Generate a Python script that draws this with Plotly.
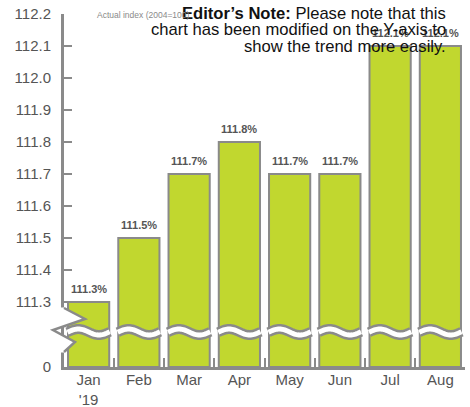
import numpy as np
import plotly.graph_objects as go

# ---- data ----
months = ["Jan<br>'19", "Feb", "Mar", "Apr", "May", "Jun", "Jul", "Aug"]
values = [111.3, 111.5, 111.7, 111.8, 111.7, 111.7, 112.1, 112.1]
ytick_vals = [111.3, 111.4, 111.5, 111.6, 111.7, 111.8, 111.9, 112.0, 112.1, 112.2]

# ---- layout geometry ----
W, H = 470, 407
L, R, T, B = 64, 5, 14, 40
PW, PH = W - R - L, H - B - T
XR = [-0.49, 7.49]
Y_TOP = 112.2
Y_BOT = Y_TOP - PH / 320.0   # 0.1 per 32 px
YR = [Y_BOT, Y_TOP]

def px_x(p):
    return XR[0] + (p - L) / PW * (XR[1] - XR[0])

def px_y(p):
    return YR[1] - (p - T) / PH * (YR[1] - YR[0])

def paper_x(p):
    return (p - L) / PW

def paper_y(p):
    return 1 - (p - T) / PH

GRAY = "#8a8a8a"
TXT = "#555555"
GREEN = "#c1d72f"
BAR_W = 0.82

x = list(range(len(months)))

fig = go.Figure()
fig.add_trace(go.Bar(
    x=x, y=[v - Y_BOT for v in values], base=Y_BOT, width=BAR_W,
    marker=dict(color=GREEN, line=dict(color=GRAY, width=2)),
    hoverinfo="skip",
))

shapes = []
# wave bands across bars
yc = px_y(332)
amp = 3.0 / 320.0
for i in x:
    xs = np.linspace(i - BAR_W / 2 - 0.01, i + BAR_W / 2 + 0.01, 40)
    ys = yc + amp * np.sin(2 * np.pi * (xs - (i - BAR_W / 2)) / BAR_W)
    path = "M " + " L ".join(f"{a:.4f},{b:.5f}" for a, b in zip(xs, ys))
    shapes.append(dict(type="path", path=path, xref="x", yref="y",
                       line=dict(color=GRAY, width=10), layer="above"))
    shapes.append(dict(type="path", path=path, xref="x", yref="y",
                       line=dict(color="white", width=5), layer="above"))

# zigzag break on the y axis (paper coordinates)
zz = [(64, 308), (85, 319), (53, 330), (75, 342), (64, 352)]
cover = [(58, 308)] + zz + [(58, 352)]
cpath = "M " + " L ".join(f"{paper_x(a):.5f},{paper_y(b):.5f}" for a, b in cover) + " Z"
shapes.append(dict(type="path", path=cpath, xref="paper", yref="paper",
                   fillcolor="white", line=dict(color="white", width=1), layer="above"))
zline = "M " + " L ".join(f"{paper_x(a):.5f},{paper_y(b):.5f}" for a, b in zz)
shapes.append(dict(type="path", path=zline, xref="paper", yref="paper",
                   line=dict(color=GRAY, width=2.5), layer="above"))

annotations = []
for xi, v in zip(x, values):
    annotations.append(dict(x=xi, y=v, text=f"<b>{v:.1f}%</b>", showarrow=False,
                            yanchor="bottom", yshift=5,
                            font=dict(family="Liberation Sans, Arial", size=11, color=TXT)))

note_lines = ["<b>Editor’s Note:</b> Please note that this",
              "chart has been modified on the Y-axis to",
              "show the trend more easily."]
for k, line in enumerate(note_lines):
    annotations.append(dict(xref="paper", yref="paper", x=paper_x(448),
                            y=paper_y(13 + 16.5 * k),
                            xanchor="right", yanchor="middle", align="right",
                            text=line, showarrow=False,
                            font=dict(family="Liberation Sans, Arial", size=16.6, color="#111111")))
annotations.append(dict(xref="paper", yref="paper", x=paper_x(95),
                        y=paper_y(15), xanchor="left", yanchor="middle",
                        text="Actual index (2004=100)", showarrow=False,
                        font=dict(family="Liberation Sans, Arial", size=8.5, color="#8a8a8a")))

fig.update_layout(
    width=W, height=H,
    margin=dict(l=L, r=R, t=T, b=B),
    paper_bgcolor="white", plot_bgcolor="white",
    showlegend=False,
    shapes=shapes, annotations=annotations,
    font=dict(family="Liberation Sans, Arial", size=15, color=TXT),
    xaxis=dict(range=XR, tickvals=x, ticktext=months, showgrid=False, zeroline=False,
               automargin=False,
               showline=True, linecolor=GRAY, linewidth=3, ticks="",
               ticklabelstandoff=-3,
               tickfont=dict(size=15, color=TXT),
               minor=dict(tickvals=[i + 0.5 for i in x[:-1]], ticks="inside",
                          ticklen=9, tickwidth=2, tickcolor=GRAY, showgrid=False)),
    yaxis=dict(range=YR, tickvals=[Y_BOT] + ytick_vals,
               ticktext=["0"] + [f"{v:.1f}" for v in ytick_vals],
               automargin=False,
               showgrid=False, zeroline=False,
               showline=True, linecolor=GRAY, linewidth=3,
               ticks="inside", ticklen=8, tickwidth=2, tickcolor=GRAY,
               ticklabelstandoff=7,
               tickfont=dict(size=15, color=TXT)),
)

fig.write_html("out.html")
